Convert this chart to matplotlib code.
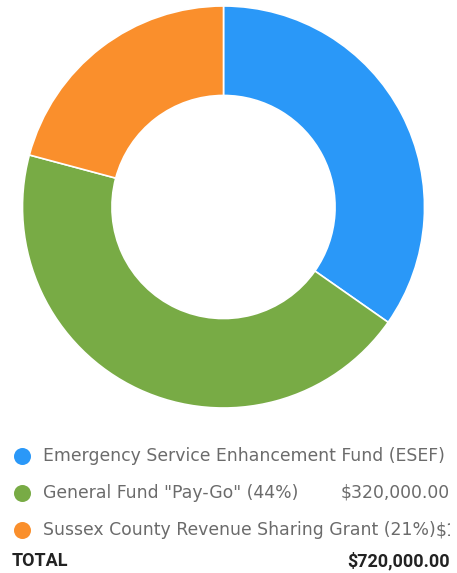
import matplotlib
matplotlib.use("Agg")
import matplotlib.pyplot as plt

labels = ["Emergency Service Enhancement Fund (ESEF)",
          'General Fund "Pay-Go"',
          "Sussex County Revenue Sharing Grant"]
values = [250000, 320000, 150000]
colors = ["#2A98F8", "#78AB45", "#FA8F2C"]

W, H = 457, 573
fig = plt.figure(figsize=(W / 100, H / 100), dpi=100)

# ---- donut ----
cx, cy, r = 223.5, 207, 201
ax = fig.add_axes([(cx - r) / W, (H - cy - r) / H, 2 * r / W, 2 * r / H])
ax.pie(values, colors=colors, startangle=90, counterclock=False, radius=1,
       wedgeprops=dict(width=0.445, edgecolor="white", linewidth=1.2))
ax.set_xlim(-1, 1)
ax.set_ylim(-1, 1)
ax.set_aspect("equal")
ax.axis("off")

# ---- legend table (clipped at the right edge, like the source) ----
right = 450
lg = fig.add_axes([0, 0, right / W, 1])
lg.set_xlim(0, right)
lg.set_ylim(H, 0)
lg.axis("off")

total = sum(values)
rows_y = [456, 493, 530]
fs = 12.4
fig.canvas.draw()
rend = fig.canvas.get_renderer()
inv = lg.transData.inverted()
for y, lab, v, c in zip(rows_y, labels, values, colors):
    lg.scatter([22], [y], s=150, color=c, linewidths=0)
    pct = round(v / total * 100)
    t = lg.text(43, y, f"{lab} ({pct}%)", fontsize=fs, color="#6b6b6b",
                va="center", ha="left", family="DejaVu Sans", clip_on=True)
    money = f"${v:,.2f}"
    bb = t.get_window_extent(rend)
    xr = inv.transform((bb.x1, 0))[0]
    vt = lg.text(right, y, money, fontsize=fs, color="#6b6b6b", va="center",
                 ha="right", family="DejaVu Sans", clip_on=True)
    vb = vt.get_window_extent(rend)
    xl = inv.transform((vb.x0, 0))[0]
    if xl < xr + 4:
        vt.set_x(xr)
        vt.set_ha("left")

lg.text(12, 561, "TOTAL", fontsize=13, fontweight="bold", color="#222222",
        va="center", ha="left", family="Roboto")
lg.text(right, 561, f"${total:,.2f}", fontsize=13, fontweight="bold",
        color="#222222", va="center", ha="right", family="Roboto")

fig.savefig("out.png", dpi=100)
